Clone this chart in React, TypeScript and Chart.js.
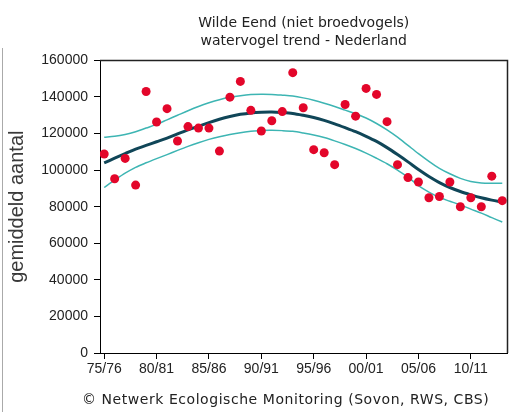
import React, { useEffect, useRef } from 'react';
import { Chart, registerables } from 'chart.js';

Chart.register(...registerables);

const years = [
  1975, 1976, 1977, 1978, 1979, 1980, 1981, 1982, 1983, 1984,
  1985, 1986, 1987, 1988, 1989, 1990, 1991, 1992, 1993, 1994,
  1995, 1996, 1997, 1998, 1999, 2000, 2001, 2002, 2003, 2004,
  2005, 2006, 2007, 2008, 2009, 2010, 2011, 2012, 2013,
];

const counts = [
  108800, 95300, 106400, 91800, 143000, 126300, 133600, 115900, 123800, 123000,
  123000, 110400, 139900, 148500, 132700, 121400, 127000, 132000, 153300, 134100,
  111200, 109500, 103000, 135900, 129500, 144700, 141400, 126500, 103000, 95900,
  93500, 84900, 85600, 93500, 80000, 84900, 80000, 96700, 83300,
];

const trend = [
  104000, 106500, 109000, 111500, 113500, 115500, 117500, 119800, 122000, 124000,
  126000, 127800, 129300, 130500, 131300, 131700, 131800, 131500, 131000, 130000,
  128800, 127200, 125300, 123200, 121000, 118500, 115700, 112300, 108500, 104500,
  100300, 96500, 93200, 90500, 88300, 86500, 84900, 83600, 82500,
];

const upper = [
  118000, 118500, 119500, 121000, 123000, 125000, 127500, 130000, 132500, 134800,
  136800, 138500, 139800, 140700, 141300, 141500, 141400, 141000, 140500, 139500,
  138200, 136600, 134800, 132800, 130800, 128500, 125500, 122000, 118000, 113500,
  109000, 104800, 101000, 98000, 95500, 93800, 93000, 92800, 92800,
];

const lower = [
  90500, 94500, 98300, 101500, 104000, 106300, 108500, 110800, 113000, 115000,
  116800, 118300, 119500, 120500, 121200, 121700, 121800, 121600, 121200, 120300,
  119200, 117800, 116000, 114000, 111800, 109300, 106500, 103500, 100000, 96200,
  91500, 88000, 85000, 83000, 81000, 78700, 76500, 74000, 71600,
];

const tickYears = [1975, 1980, 1985, 1990, 1995, 2000, 2005, 2010];
const tickLabels = ['75/76', '80/81', '85/86', '90/91', '95/96', '00/01', '05/06', '10/11'];
const yTicks = [0, 20000, 40000, 60000, 80000, 100000, 120000, 140000, 160000];

const titleLines = ['Wilde Eend (niet broedvogels)', 'watervogel trend - Nederland'];
const yTitle = 'gemiddeld aantal';
const footerText = '\u00A9 Netwerk Ecologische Monitoring (Sovon, RWS, CBS)';

const pts = (vals: number[]) => years.map((y, i) => ({ x: y, y: vals[i] }));

const framePlugin = {
  id: 'frame',
  afterDraw(chart: any) {
    const { ctx, chartArea } = chart;
    ctx.save();
    ctx.strokeStyle = '#222';
    ctx.lineWidth = 1.5;
    ctx.beginPath();
    ctx.moveTo(chartArea.left, chartArea.top);
    ctx.lineTo(chartArea.right, chartArea.top);
    ctx.lineTo(chartArea.right, chartArea.bottom);
    ctx.stroke();
    ctx.strokeStyle = '#aaa';
    ctx.lineWidth = 1;
    ctx.beginPath();
    ctx.moveTo(2.5, 48);
    ctx.lineTo(2.5, 412);
    ctx.stroke();
    ctx.fillStyle = '#222';
    ctx.font = '14px "DejaVu Sans"';
    ctx.textAlign = 'left';
    ctx.textBaseline = 'middle';
    try {
      (ctx as any).letterSpacing = '0.55px';
    } catch (e) {
      /* ignore */
    }
    ctx.fillText(footerText, 82, 400);
    ctx.restore();
  },
};

export default function App() {
  const ref = useRef<HTMLCanvasElement | null>(null);
  useEffect(() => {
    document.body.style.margin = '0';
    if (!ref.current) return;
    const chart = new Chart(ref.current, {
      type: 'line',
      data: {
        datasets: [
          {
            label: 'tellingen',
            data: pts(counts),
            showLine: false,
            pointRadius: 4.5,
            pointBackgroundColor: '#e3062a',
            pointBorderColor: '#e3062a',
            pointBorderWidth: 0,
            order: 0,
          },
          {
            label: 'trend',
            data: pts(trend),
            borderColor: '#104658',
            borderWidth: 3,
            pointRadius: 0,
            tension: 0.3,
            order: 1,
          },
          {
            label: 'boven',
            data: pts(upper),
            borderColor: '#3db5b3',
            borderWidth: 1.5,
            pointRadius: 0,
            tension: 0.3,
            order: 2,
          },
          {
            label: 'onder',
            data: pts(lower),
            borderColor: '#3db5b3',
            borderWidth: 1.5,
            pointRadius: 0,
            tension: 0.3,
            order: 2,
          },
        ],
      },
      options: {
        animation: false,
        responsive: true,
        maintainAspectRatio: false,
        layout: { padding: { left: 0, right: 3, top: 0, bottom: 34 } },
        plugins: {
          legend: { display: false },
          tooltip: { enabled: false },
          title: {
            display: true,
            text: titleLines,
            fullSize: false,
            color: '#222',
            font: { family: '"DejaVu Sans"', size: 14, weight: 'normal', lineHeight: 1.3 },
            padding: { top: 14, bottom: 10 },
          },
        },
        scales: {
          x: {
            type: 'linear',
            min: 1974.6,
            max: 2013.5,
            afterFit(scale: any) {
              scale.height = 25;
            },
            afterBuildTicks(scale: any) {
              scale.ticks = tickYears.map((v) => ({ value: v }));
            },
            ticks: {
              autoSkip: false,
              maxRotation: 0,
              padding: 2,
              color: '#222',
              font: { family: '"Liberation Sans"', size: 14 },
              callback: (v: any) => {
                const i = tickYears.indexOf(Number(v));
                return i >= 0 ? tickLabels[i] : '';
              },
            },
            grid: { drawOnChartArea: false, drawTicks: true, tickLength: 6, color: '#000' },
            border: { display: true, color: '#000', width: 1 },
          },
          y: {
            min: 0,
            max: 160000,
            afterFit(scale: any) {
              scale.width = 100;
            },
            afterBuildTicks(scale: any) {
              scale.ticks = yTicks.map((v) => ({ value: v }));
            },
            ticks: {
              padding: 6,
              color: '#222',
              font: { family: '"Liberation Sans"', size: 14 },
              callback: (v: any) => String(v),
            },
            title: {
              display: true,
              text: yTitle,
              color: '#3a3a3a',
              font: { family: '"Liberation Sans"', size: 20 },
              padding: { top: 5, bottom: 0 },
            },
            grid: { drawOnChartArea: false, drawTicks: true, tickLength: 6, color: '#000' },
            border: { display: true, color: '#000', width: 1 },
          },
        },
      },
      plugins: [framePlugin],
    });
    return () => chart.destroy();
  }, []);
  return (
    <div style={{ position: 'fixed', left: 0, top: 0, width: 512, height: 412, background: '#fff' }}>
      <canvas ref={ref} />
    </div>
  );
}
